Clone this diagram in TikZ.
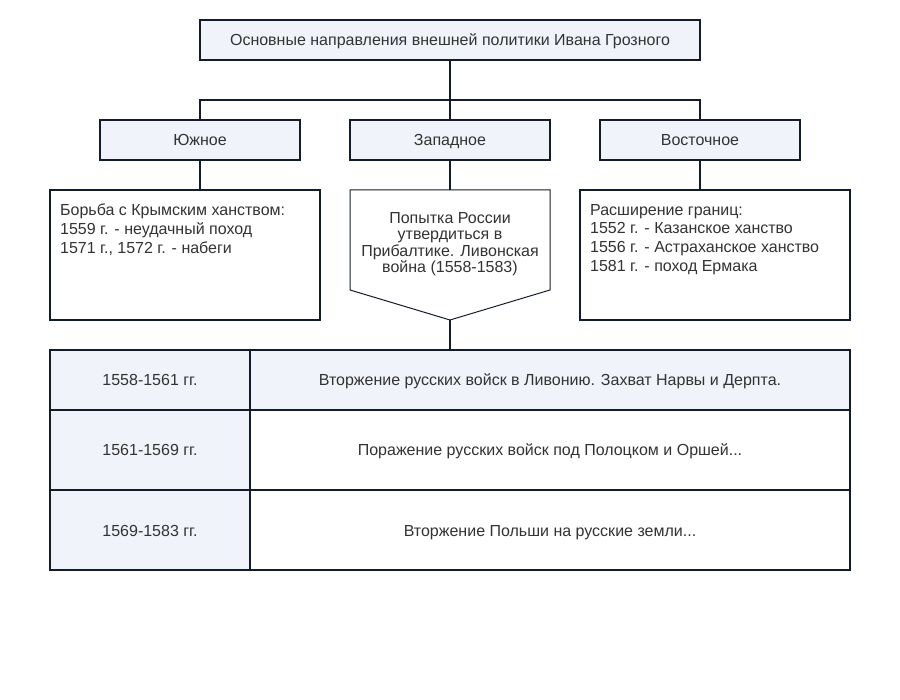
\documentclass[tikz,border=0pt]{standalone}
\usepackage{fontspec}
\setmainfont{Liberation Sans}
\usetikzlibrary{positioning}

\definecolor{lineclr}{HTML}{141C2C}
\definecolor{fillclr}{HTML}{F0F3F9}
\definecolor{textclr}{HTML}{333333}

\tikzset{
  box/.style={draw=lineclr, line width=2pt, fill=fillclr, inner sep=0pt,
    text=textclr, font=\fontsize{16}{19}\selectfont,
    text height=14pt, text depth=2pt},
  plainbox/.style={box, fill=white},
  body/.style={inner sep=0pt, text=textclr, align=left,
    font=\fontsize{16}{18.6}\selectfont},
  link/.style={draw=lineclr, line width=2pt},
}

\begin{document}
\begin{tikzpicture}[x=1pt,y=-1pt]
  \useasboundingbox (0,0) rectangle (900,700);

  % Top heading
  \node[box, minimum width=500pt, minimum height=40pt] (main) at (450,40)
    {Основные направления внешней политики Ивана Грозного};

  % Three directions
  \node[box, minimum width=200pt, minimum height=40pt] (south) at (200,140) {Южное};
  \node[box, minimum width=200pt, minimum height=40pt] (west)  at (450,140) {Западное};
  \node[box, minimum width=200pt, minimum height=40pt] (east)  at (700,140) {Восточное};

  % Bus from the heading
  \coordinate (bus) at (450,100);
  \path[link] (main.south) -- (bus);
  \path[link] (south.north) |- (east.north |- bus) -- (east.north);
  \path[link] (bus) -- (west.north);

  % Southern box
  \node[plainbox, minimum width=270pt, minimum height=130pt] (southbox) at (185,255) {};
  \node[body, anchor=north west] (southtxt) at (60,204)
    {Борьба с Крымским ханством:\\1559 г. - неудачный поход\\1571 г., 1572 г. - набеги};
  \path[link] (south.south) -- (south.south |- southbox.north);

  % Western pentagon
  \coordinate (wtop) at (450,190);
  \coordinate (wtip) at (450,320);
  \draw[draw=lineclr, line width=1pt, fill=white]
    (350,190) -- (550,190) -- (550,290) -- (wtip) -- (350,290) -- cycle;
  \node[body, align=center, font=\fontsize{16}{16.4}\selectfont] (westtxt) at (450,244)
    {Попытка России\\утвердиться в\\Прибалтике. Ливонская\\война (1558-1583)};
  \path[link] (west.south) -- (wtop);

  % Eastern box
  \node[plainbox, minimum width=270pt, minimum height=130pt] (eastbox) at (715,255) {};
  \node[body, anchor=north west] (easttxt) at (590,204)
    {Расширение границ:\\1552 г. - Казанское ханство\\1556 г. - Астраханское ханство\\1581 г. - поход Ермака};
  \path[link] (east.south) -- (east.south |- eastbox.north);

  % Table of the Livonian war
  \node[box, minimum width=200pt, minimum height=60pt] (r1a) at (150,380) {1558-1561 гг.};
  \node[box, minimum width=600pt, minimum height=60pt] (r1b) at (550,380)
    {Вторжение русских войск в Ливонию. Захват Нарвы и Дерпта.};
  \node[box, minimum width=200pt, minimum height=80pt] (r2a) at (150,450) {1561-1569 гг.};
  \node[plainbox, minimum width=600pt, minimum height=80pt] (r2b) at (550,450)
    {Поражение русских войск под Полоцком и Оршей...};
  \node[box, minimum width=200pt, minimum height=80pt] (r3a) at (150,530) {1569-1583 гг.};
  \node[plainbox, minimum width=600pt, minimum height=80pt] (r3b) at (550,530)
    {Вторжение Польши на русские земли...};
  \path[link] (wtip) -- (wtip |- r1b.north);

\end{tikzpicture}
\end{document}
